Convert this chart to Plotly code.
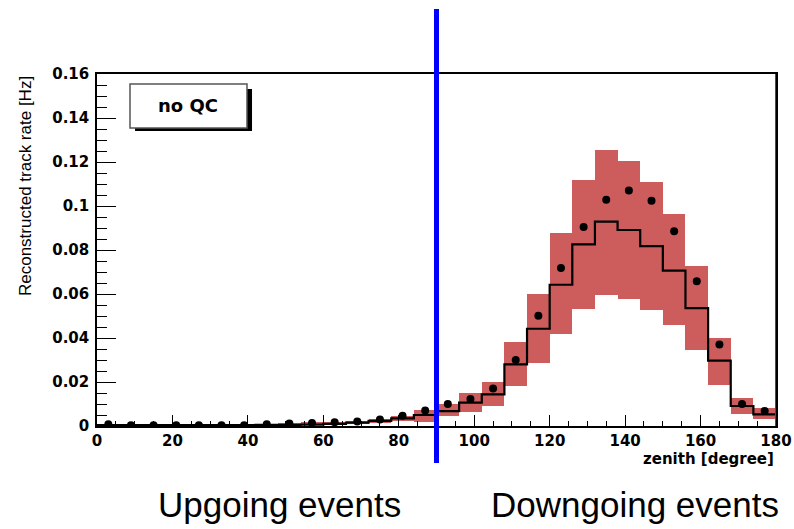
import plotly.graph_objects as go

# Zenith binning: 30 bins of 6 degrees
bin_edges = list(range(0, 181, 6))

# Measured reconstructed track rate per zenith bin [Hz]
data_rate = [0.0008, 0.0003, 0.0003, 0.0003, 0.0003, 0.0003, 0.0003, 0.0008,
             0.0011, 0.0014, 0.0017, 0.0021, 0.0030, 0.0047, 0.0071, 0.0100,
             0.0123, 0.0170, 0.0300, 0.0501, 0.0718, 0.0905, 0.1028, 0.1071,
             0.1024, 0.0885, 0.0658, 0.0370, 0.0100, 0.0068]

# Simulated rate (step histogram)
mc_rate = [0.0004, 0.0004, 0.0004, 0.0004, 0.0004, 0.0004, 0.0004, 0.0005,
           0.0005, 0.0006, 0.0010, 0.0015, 0.0023, 0.0035, 0.0050, 0.0068,
           0.0106, 0.0144, 0.0280, 0.0442, 0.0642, 0.0826, 0.0929, 0.0891,
           0.0818, 0.0706, 0.0536, 0.0297, 0.0091, 0.0053]

# Systematic uncertainty band on the simulation
band_low = [0.0001, 0.0001, 0.0001, 0.0001, 0.0001, 0.0001, 0.0001, 0.0002,
            0.0003, 0.0004, 0.0006, 0.0008, 0.0012, 0.0023, 0.0018, 0.0045,
            0.0065, 0.0091, 0.0182, 0.0288, 0.0418, 0.0530, 0.0595, 0.0576,
            0.0527, 0.0459, 0.0345, 0.0186, 0.0055, 0.0030]
band_high = [0.0009, 0.0008, 0.0008, 0.0008, 0.0008, 0.0008, 0.0008, 0.0010,
             0.0012, 0.0016, 0.0020, 0.0023, 0.0030, 0.0045, 0.0073, 0.0100,
             0.0149, 0.0199, 0.0383, 0.0599, 0.0876, 0.1118, 0.1255, 0.1205,
             0.1108, 0.0962, 0.0727, 0.0401, 0.0126, 0.0080]

x_ticks = [0, 20, 40, 60, 80, 100, 120, 140, 160, 180]
x_tick_text = ["0", "20", "40", "60", "80", "100", "120", "140", "160", "180"]
y_ticks = [0, 0.02, 0.04, 0.06, 0.08, 0.10, 0.12, 0.14, 0.16]
y_tick_text = ["0", "0.02", "0.04", "0.06", "0.08", "0.1", "0.12", "0.14", "0.16"]

horizon_deg = 90
axis_end_deg = 180

centers = [(a + b) / 2 for a, b in zip(bin_edges[:-1], bin_edges[1:])]
widths = [b - a for a, b in zip(bin_edges[:-1], bin_edges[1:])]

fig = go.Figure()

# uncertainty band
fig.add_trace(go.Bar(
    x=centers,
    y=[h - l for h, l in zip(band_high, band_low)],
    base=band_low,
    width=widths,
    marker=dict(color="#cd5c5c", line=dict(width=0)),
    hoverinfo="skip",
))

# simulation step histogram
fig.add_trace(go.Scatter(
    x=bin_edges,
    y=mc_rate + [mc_rate[-1]],
    mode="lines",
    line=dict(color="black", width=2.2, shape="hv"),
))

# data points
fig.add_trace(go.Scatter(
    x=centers,
    y=data_rate,
    mode="markers",
    marker=dict(color="black", size=8),
))

tick_font = dict(family="DejaVu Sans", size=15, color="black", weight="bold")

fig.update_layout(
    width=794,
    height=529,
    margin=dict(l=97, r=18, t=74, b=103),
    paper_bgcolor="white",
    plot_bgcolor="white",
    showlegend=False,
    bargap=0,
    xaxis=dict(
        range=[0, 180],
        automargin=False,
        tickmode="array",
        tickvals=x_ticks,
        ticktext=x_tick_text,
        ticks="inside",
        ticklen=11,
        tickwidth=1.3,
        tickcolor="black",
        minor=dict(dtick=5, ticks="inside", ticklen=5, tickcolor="black", tickwidth=1),
        showgrid=False,
        zeroline=False,
        showline=True,
        linecolor="black",
        linewidth=1.5,
        mirror=True,
        tickfont=tick_font,
    ),
    yaxis=dict(
        range=[0, 0.16],
        automargin=False,
        tickmode="array",
        tickvals=y_ticks,
        ticktext=y_tick_text,
        ticks="inside",
        ticklen=19,
        tickwidth=1.3,
        tickcolor="black",
        minor=dict(dtick=0.005, ticks="inside", ticklen=10, tickcolor="black", tickwidth=1),
        showgrid=False,
        zeroline=False,
        showline=True,
        linecolor="black",
        linewidth=1.5,
        mirror=True,
        tickfont=tick_font,
        ticklabelstandoff=3,
    ),
)

shapes = [
    # label box shadow and box
    dict(type="rect", xref="paper", yref="paper", x0=0.0560, x1=0.2283, y0=0.8380, y1=0.9574,
         fillcolor="black", line=dict(width=0), layer="above"),
    dict(type="rect", xref="paper", yref="paper", x0=0.0486, x1=0.2209, y0=0.8466, y1=0.9716,
         fillcolor="white", line=dict(color="#555555", width=1.5), layer="above"),
    # right-edge marker at the end of the zenith range
    dict(type="line", xref="x", yref="paper", x0=axis_end_deg, x1=axis_end_deg, y0=0, y1=1,
         line=dict(color="red", width=2), layer="above"),
    # horizon separator
    dict(type="line", xref="x", yref="paper", x0=horizon_deg, x1=horizon_deg, y0=-0.105, y1=1.185,
         line=dict(color="#0000ff", width=5), layer="above"),
]
fig.update_layout(shapes=shapes)

annotations = [
    dict(text="no QC", xref="paper", yref="paper", x=0.1347, y=0.9091,
         xanchor="center", yanchor="middle", showarrow=False,
         font=dict(family="DejaVu Sans", size=18, color="black", weight="bold")),
    dict(text="Reconstructed track rate [Hz]", xref="paper", yref="paper",
         x=-0.106, y=1.0, xanchor="center", yanchor="top", textangle=-90, showarrow=False,
         font=dict(family="Liberation Sans", size=17, color="black")),
    dict(text="zenith [degree]", xref="paper", yref="paper",
         x=1.0, y=-0.093, xanchor="right", yanchor="middle", showarrow=False,
         font=dict(family="DejaVu Sans", size=15, color="black", weight="bold")),
    dict(text="Upgoing events", xref="paper", yref="paper",
         x=0.2688, y=-0.2216, xanchor="center", yanchor="middle", showarrow=False,
         font=dict(family="Liberation Sans", size=35, color="black")),
    dict(text="Downgoing events", xref="paper", yref="paper",
         x=0.7923, y=-0.2216, xanchor="center", yanchor="middle", showarrow=False,
         font=dict(family="Liberation Sans", size=35, color="black")),
]
fig.update_layout(annotations=annotations)

fig.write_html("out.html")
